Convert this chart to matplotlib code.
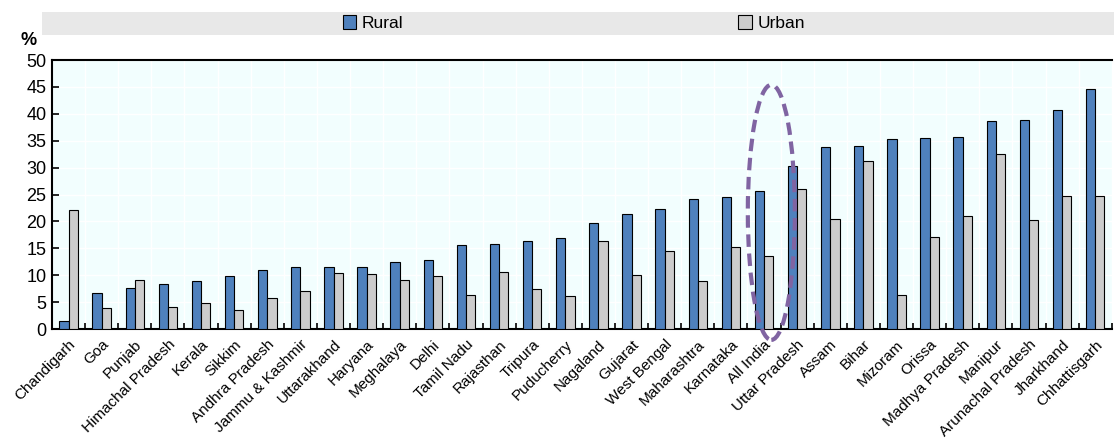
import numpy as np
import matplotlib
matplotlib.use("Agg")
import matplotlib.pyplot as plt
from matplotlib.patches import Ellipse, Rectangle

plt.rcParams['font.family'] = ['Liberation Sans', 'DejaVu Sans']

states = ['Chandigarh', 'Goa', 'Punjab', 'Himachal Pradesh', 'Kerala', 'Sikkim',
          'Andhra Pradesh', 'Jammu & Kashmir', 'Uttarakhand', 'Haryana', 'Meghalaya',
          'Delhi', 'Tamil Nadu', 'Rajasthan', 'Tripura', 'Puducherry', 'Nagaland',
          'Gujarat', 'West Bengal', 'Maharashtra', 'Karnataka', 'All India',
          'Uttar Pradesh', 'Assam', 'Bihar', 'Mizoram', 'Orissa', 'Madhya Pradesh',
          'Manipur', 'Arunachal Pradesh', 'Jharkhand', 'Chhattisgarh']
rural = [1.6, 6.7, 7.6, 8.4, 9.0, 9.8, 10.9, 11.5, 11.5, 11.6, 12.4, 12.8, 15.7, 15.9,
         16.4, 16.9, 19.8, 21.4, 22.4, 24.1, 24.5, 25.6, 30.4, 33.9, 34.0, 35.4, 35.6,
         35.7, 38.7, 38.9, 40.8, 44.6]
urban = [22.2, 4.0, 9.1, 4.2, 4.9, 3.6, 5.7, 7.1, 10.4, 10.2, 9.1, 9.8, 6.4, 10.6, 7.4,
         6.2, 16.4, 10.1, 14.6, 9.0, 15.2, 13.6, 26.0, 20.4, 31.2, 6.3, 17.2, 21.0, 32.6,
         20.3, 24.8, 24.7]

fig = plt.figure(figsize=(11.14, 4.4), dpi=100)
ax = fig.add_axes([0.0467, 0.252, 0.9513, 0.6116])
ax.set_facecolor('#f2fefe')

x = np.arange(len(states))
w = 0.28
ax.bar(x - w / 2, rural, w, color='#4f81bd', edgecolor='black', linewidth=0.8, label='Rural', zorder=3)
ax.bar(x + w / 2, urban, w, color='#cccccc', edgecolor='black', linewidth=0.8, label='Urban', zorder=3)

ax.set_xlim(-0.5, len(states) - 0.5)
ax.set_ylim(0, 50)
ax.set_yticks(np.arange(0, 51, 5))
ax.set_xticks(x)
ax.set_xticklabels(states, rotation=45, ha='right', rotation_mode='anchor', fontsize=11)
ax.set_xticks(np.arange(-0.5, len(states), 1), minor=True)
ax.tick_params(axis='x', which='major', length=0, pad=6)
ax.tick_params(axis='x', which='minor', direction='in', length=4, width=1.2)
ax.tick_params(axis='y', direction='in', length=5, width=1.2, labelsize=13, pad=4)

ax.grid(True, axis='y', color='white', lw=1, zorder=0)
ax.grid(True, axis='x', which='minor', color='white', lw=1, zorder=0)

for s in ['left', 'bottom', 'top']:
    ax.spines[s].set_linewidth(1.5)
ax.spines['right'].set_visible(False)

# highlight for All India
ai = states.index('All India')
ax.add_patch(Ellipse((ai + 0.22, 21.7), 1.42, 47.4, fill=False, edgecolor='#8064a2',
                     linewidth=3, linestyle=(0, (3, 1.6)), clip_on=False, zorder=5))

fig.text(0.026, 0.907, '%', fontsize=13, fontweight='bold', ha='center', va='center')

# legend band
fig.patches.append(Rectangle((0.038, 0.92), 0.962, 0.053, transform=fig.transFigure,
                             facecolor='#e8e8e8', edgecolor='none', zorder=0))
fig.legend(loc='center', bbox_to_anchor=(0.515, 0.947), ncol=2, frameon=False,
           fontsize=12.5, handlelength=0.8, handleheight=0.8, handletextpad=0.3,
           columnspacing=19.3)

fig.savefig('out.png', dpi=100)
